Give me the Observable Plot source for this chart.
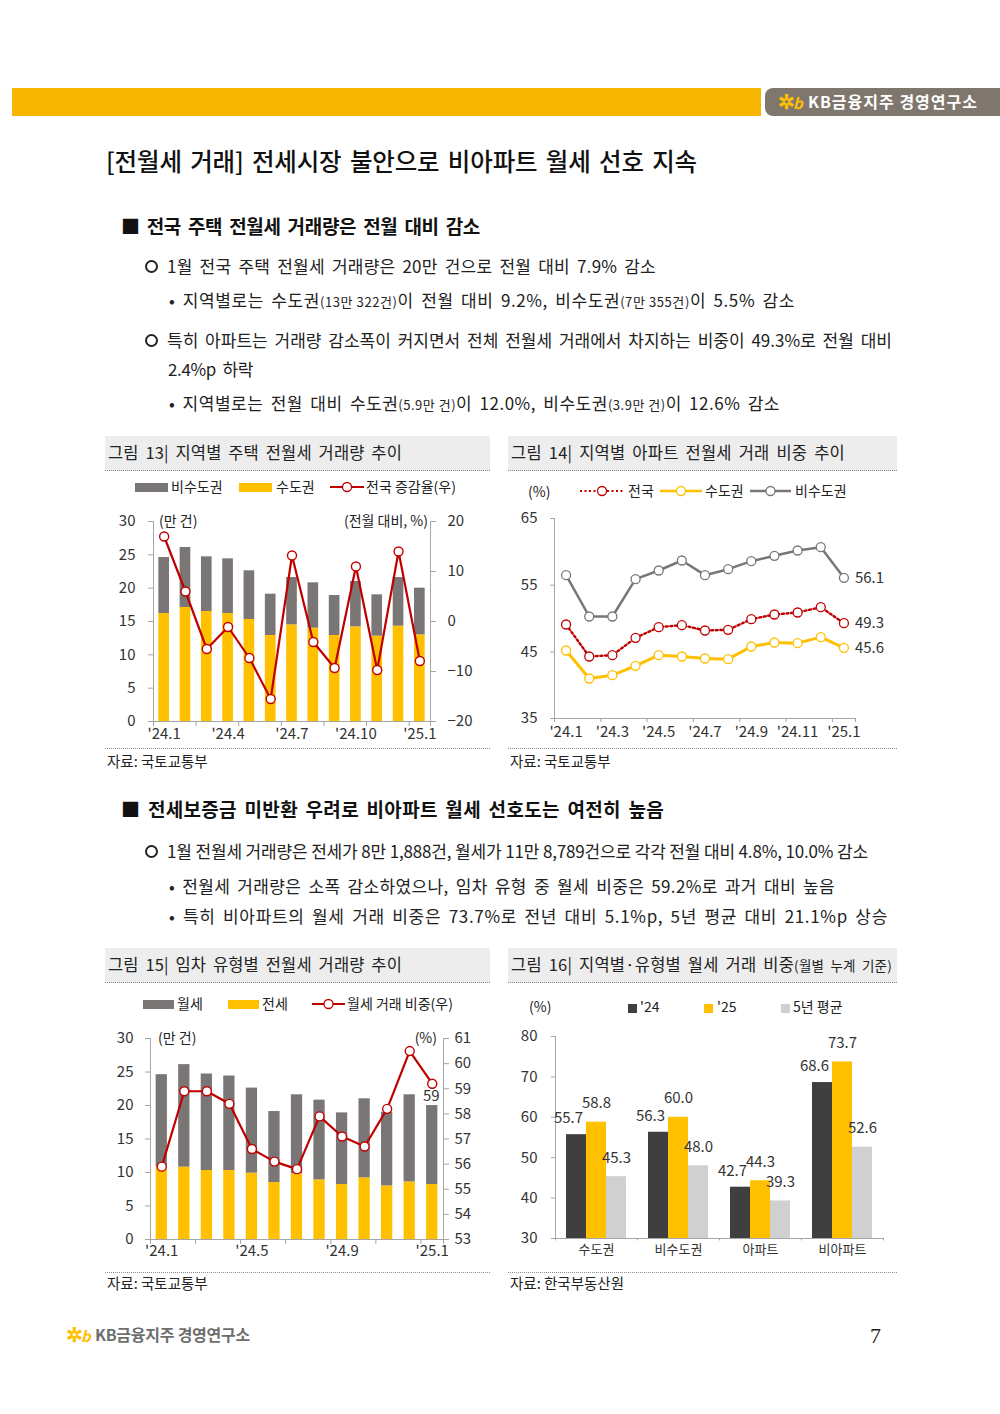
<!DOCTYPE html>
<html><head><meta charset="utf-8">
<script src="https://cdn.jsdelivr.net/npm/d3@7"></script>
<script src="https://cdn.jsdelivr.net/npm/@observablehq/plot@0.6"></script>
<style>
body{margin:0;background:#fff;font-family:"Noto Sans CJK KR","Noto Sans",sans-serif;color:#222}
#page{position:relative;width:1000px;height:1414px;overflow:hidden;background:#fff}
.a{position:absolute;white-space:nowrap}
.tbar{position:absolute;height:34px;background:#EDEDED;border-bottom:1px dotted #8a8a8a}
.dline{position:absolute;height:0;border-top:1px dotted #8a8a8a}
.sm{font-size:13px;word-spacing:0}
.circ{display:inline-block;width:9px;height:9px;border:2.5px solid #222;border-radius:50%;margin-right:9px;vertical-align:middle;position:relative;top:-2px}
</style></head><body><div id="page"></div>
<script>
// ---------------- data ----------------
const months = ["'24.1","'24.2","'24.3","'24.4","'24.5","'24.6","'24.7","'24.8","'24.9","'24.10","'24.11","'24.12","'25.1"];

// 그림 13 (만 건 / %)
const capital13    = [16.2,17.1,16.5,16.2,15.3,12.9,14.5,14.0,12.9,14.2,12.8,14.3,13.0];
const nonCapital13 = [8.4,9.0,8.2,8.2,7.3,6.2,7.1,6.8,6.0,6.8,6.2,7.3,7.0];
const rate13       = [17.0,6.0,-5.5,-1.1,-7.3,-15.5,13.2,-4.1,-9.3,11.0,-9.7,14.0,-7.9];
const labelIdx13   = [0,3,6,9,12];
const leftTicks13  = [0,5,10,15,20,25,30];
const rightTicks13 = [-20,-10,0,10,20];

// 그림 14 (%)
const nation14  = [49.1,44.3,44.5,47.1,48.7,49.0,48.2,48.3,49.9,50.6,50.9,51.7,49.3];
const capital14 = [45.2,41.0,41.5,42.9,44.5,44.3,44.0,43.9,45.8,46.4,46.3,47.2,45.6];
const noncap14  = [56.5,50.3,50.3,55.9,57.2,58.7,56.5,57.4,58.6,59.4,60.2,60.7,56.1];
const labelIdx14 = [0,2,4,6,8,10,12];
const yTicks14 = [35,45,55,65];

// 그림 15 (만 건 / %)
const wolse15  = [13.7,15.3,14.4,14.1,12.7,10.6,11.8,11.9,10.7,11.8,11.0,13.0,11.8];
const jeonse15 = [10.9,10.8,10.3,10.3,9.9,8.5,9.8,8.9,8.2,9.2,8.0,8.6,8.2];
const share15  = [55.9,58.9,58.9,58.4,56.6,56.1,55.8,57.9,57.1,56.7,58.2,60.5,59.2];
const labelIdx15 = [0,4,8,12];
const leftTicks15 = [0,5,10,15,20,25,30];
const rightTicks15 = [53,54,55,56,57,58,59,60,61];

// 그림 16 (%)
const cats16 = ["수도권","비수도권","아파트","비아파트"];
const series16 = ["'24","'25","5년 평균"];
const v24 = [55.7,56.3,42.7,68.6];
const v25 = [58.8,60.0,44.3,73.7];
const avg5 = [45.3,48.0,39.3,52.6];
const yTicks16 = [30,40,50,60,70,80];

// ---------------- style ----------------
const FONT = '"Noto Sans CJK KR","Noto Sans",sans-serif';
const YEL="#FFC000", GRAY="#7B7676", DARK="#3F3F3F", LGRAY="#D0D0D0", RED="#C00000", AX="#A6A6A6", TXT="#333";

const page = document.getElementById("page");
const fits = [];
function put(html, left, cy, size, style="", target) {
  const d = document.createElement("div");
  d.className = "a";
  d.style.cssText = `left:${left}px;top:${cy - size*0.72}px;font-size:${size}px;line-height:${size*1.4}px;${style}`;
  d.innerHTML = html; page.appendChild(d);
  if (target) fits.push([d, target - left]);
  return d;
}
function doFit() {
  for (const [d, w] of fits) {
    d.style.letterSpacing = "0px";
    const cur = d.getBoundingClientRect().width;
    const n = [...d.textContent].length;
    d.style.letterSpacing = ((w - cur) / n) + "px";
  }
}
function box(cls, left, top, width, style="") {
  const d = document.createElement("div");
  d.className = cls; d.style.cssText = `left:${left}px;top:${top}px;width:${width}px;${style}`;
  page.appendChild(d); return d;
}
function place(svg, left, top) {
  const d = document.createElement("div");
  d.className = "a"; d.style.left = left+"px"; d.style.top = top+"px";
  d.appendChild(svg); page.appendChild(d);
}
function swRect(x, cy, w, h, color) { box("a", x, cy - h/2, w, `height:${h}px;background:${color}`); }
function swLine(x, cy, w, color, sw, dash) {
  const s = `<svg width="${w}" height="14" style="display:block"><line x1="0" x2="${w}" y1="7" y2="7" stroke="${color}" stroke-width="${sw}" ${dash?`stroke-dasharray="${dash}"`:""}/><circle cx="${w/2}" cy="7" r="4.5" fill="#fff" stroke="${color}" stroke-width="1.3"/></svg>`;
  const d = box("a", x, cy - 7, w, "height:14px"); d.innerHTML = s;
}

// ---------------- header / text ----------------
box("a", 12, 88, 749, "height:28px;background:#F6B500");
box("a", 765, 88, 240, "height:28px;background:#7F776E;border-radius:8px 0 0 8px");
const logo = '<span style="color:#FFC000;font-weight:700;font-size:20px">✲</span><span style="color:#FFC000;font-weight:700;font-style:italic;font-size:15px;margin-left:-2px">b</span>';
put(logo, 778, 102, 16);
put('KB금융지주 경영연구소', 808, 102, 16, "color:#fff;font-weight:700", 978);

const WS = "word-spacing:3px;";
put('[전월세 거래] 전세시장 불안으로 비아파트 월세 선호 지속', 106, 162, 24.5, WS+"font-weight:500;color:#111", 697);

put('■ 전국 주택 전월세 거래량은 전월 대비 감소', 121, 227, 19, WS+"font-weight:700;color:#111", 480);
put('<span class="circ"></span>1월 전국 주택 전월세 거래량은 20만 건으로 전월 대비 7.9% 감소', 145, 266, 17, WS, 656);
put('• 지역별로는 수도권<span class="sm">(13만 322건)</span>이 전월 대비 9.2%, 비수도권<span class="sm">(7만 355건)</span>이 5.5% 감소', 169, 300, 17, WS, 795);
put('<span class="circ"></span>특히 아파트는 거래량 감소폭이 커지면서 전체 전월세 거래에서 차지하는 비중이 49.3%로 전월 대비', 145, 340, 17, WS, 892);
put('2.4%p 하락', 168, 369, 17, WS, 253);
put('• 지역별로는 전월 대비 수도권<span class="sm">(5.9만 건)</span>이 12.0%, 비수도권<span class="sm">(3.9만 건)</span>이 12.6% 감소', 169, 403, 17, WS, 780);

put('■ 전세보증금 미반환 우려로 비아파트 월세 선호도는 여전히 높음', 121, 810, 19, WS+"font-weight:700;color:#111", 664);
put('<span class="circ"></span>1월 전월세 거래량은 전세가 8만 1,888건, 월세가 11만 8,789건으로 각각 전월 대비 4.8%, 10.0% 감소', 145, 851, 17, "", 868);
put('• 전월세 거래량은 소폭 감소하였으나, 임차 유형 중 월세 비중은 59.2%로 과거 대비 높음', 169, 886, 17, WS, 835);
put('• 특히 비아파트의 월세 거래 비중은 73.7%로 전년 대비 5.1%p, 5년 평균 대비 21.1%p 상승', 169, 916, 17, WS, 888);

// chart title bars & sources
box("tbar", 105, 436, 385); box("tbar", 508, 436, 389);
box("tbar", 105, 948, 385); box("tbar", 508, 948, 389);
put('그림 13| 지역별 주택 전월세 거래량 추이', 108, 453, 16.5, WS+"color:#222", 402);
put('그림 14| 지역별 아파트 전월세 거래 비중 추이', 511, 453, 16.5, WS+"color:#222", 845);
put('그림 15| 임차 유형별 전월세 거래량 추이', 108, 965, 16.5, WS+"color:#222", 402);
put('그림 16| 지역별·유형별 월세 거래 비중<span style="font-size:13.5px">(월별 누계 기준)</span>', 511, 965, 16.5, WS+"color:#222", 892);
box("dline", 105, 748, 385); box("dline", 508, 748, 389);
box("dline", 105, 1272, 385); box("dline", 508, 1272, 389);
put('자료: 국토교통부', 107, 761, 14.5);
put('자료: 국토교통부', 510, 761, 14.5);
put('자료: 국토교통부', 107, 1283, 14.5);
put('자료: 한국부동산원', 510, 1283, 14.5);

// footer
put(logo, 66, 1335, 16);
put('KB금융지주 경영연구소', 95, 1335, 16, "color:#6e6e6e;font-weight:700", 250);
put('7', 870, 1337, 22, 'font-family:"Liberation Serif",serif;color:#222');

// ---------------- legends & unit labels ----------------
swRect(135, 487, 33, 9, GRAY); put('비수도권', 171, 487, 14);
swRect(239, 487, 33, 9, YEL); put('수도권', 276, 487, 14);
swLine(330, 487, 34, RED, 2.2); put('전국 증감율(우)', 366, 487, 14);
put('(만 건)', 159, 521, 14);
put('(전월 대비, %)', 428, 521, 14, "transform:translateX(-100%)");

put('(%)', 528, 492, 14);
swLine(580, 491, 44, RED, 2.2, "2,2.5"); put('전국', 628, 491, 14);
swLine(660, 491, 42, YEL, 2.5); put('수도권', 705, 491, 14);
swLine(750, 491, 41, GRAY, 2.5); put('비수도권', 795, 491, 14);

swRect(143, 1004, 31, 9, GRAY); put('월세', 177, 1004, 14);
swRect(228, 1004, 31, 9, YEL); put('전세', 262, 1004, 14);
swLine(312, 1004, 33, RED, 2.2); put('월세 거래 비중(우)', 347, 1004, 14);
put('(만 건)', 158, 1038, 14);
put('(%)', 437, 1038, 14, "transform:translateX(-100%)");

put('(%)', 529, 1007, 14);
swRect(628, 1008, 9, 9, DARK); put("'24", 640, 1007, 14);
swRect(704, 1008, 9, 9, YEL); put("'25", 717, 1007, 14);
swRect(781, 1008, 9, 9, LGRAY); put('5년 평균', 793, 1007, 14);

doFit();
if (document.fonts && document.fonts.ready) document.fonts.ready.then(doFit);

// ---------------- charts ----------------
const idx = months.map((_, i) => i);
const xdom = [-0.5, months.length - 0.5];
const tickB = idx.filter(i => i % 2 === 0).map(i => i - 0.5).concat([months.length - 0.5]);
const hb = 0.25; // half bar width (in month steps)
const minus = v => v < 0 ? "\u2212" + (-v) : String(v);
const baseStyle = {fontFamily: FONT, fontSize: "15px", color: TXT, background: "transparent", overflow: "visible"};

// 그림 13
{
  const rows = idx.map(i => ({i, cap: capital13[i], non: nonCapital13[i], rate: rate13[i]}));
  const rd = [rightTicks13[0], rightTicks13[rightTicks13.length-1]];
  const ld = [leftTicks13[0], leftTicks13[leftTicks13.length-1]];
  const toL = v => ld[0] + (v - rd[0]) * (ld[1]-ld[0]) / (rd[1]-rd[0]);
  const fromL = y => Math.round(rd[0] + (y - ld[0]) * (rd[1]-rd[0]) / (ld[1]-ld[0]));
  const p = Plot.plot({
    width: 385, height: 250, marginLeft: 48, marginRight: 60, marginTop: 21, marginBottom: 29,
    style: baseStyle,
    x: {domain: xdom, axis: null}, y: {domain: ld, axis: null},
    marks: [
      Plot.rect(rows, {x1: d => d.i - hb, x2: d => d.i + hb, y1: ld[0], y2: "cap", fill: YEL}),
      Plot.rect(rows, {x1: d => d.i - hb, x2: d => d.i + hb, y1: "cap", y2: d => d.cap + d.non, fill: GRAY}),
      Plot.ruleY([ld[0]], {stroke: AX}),
      Plot.ruleX([xdom[0], xdom[1]], {y1: ld[0], y2: ld[1], stroke: AX}),
      Plot.ruleX(tickB, {y1: ld[0], y2: ld[0] - 0.75, stroke: AX}),
      Plot.axisY(leftTicks13, {anchor: "left", tickSize: 5, tickPadding: 13, stroke: AX, fill: TXT, label: null}),
      Plot.axisY(rightTicks13.map(toL), {anchor: "right", tickSize: 5, tickPadding: 12, stroke: AX, fill: TXT, label: null, tickFormat: y => minus(fromL(y))}),
      Plot.axisX(labelIdx13, {anchor: "bottom", tickSize: 0, tickPadding: 7, fill: TXT, label: null, tickFormat: i => months[i]}),
      Plot.line(rows, {x: "i", y: d => toL(d.rate), stroke: RED, strokeWidth: 2.2}),
      Plot.dot(rows, {x: "i", y: d => toL(d.rate), r: 4.5, fill: "white", stroke: RED, strokeWidth: 1.4})
    ]
  });
  place(p, 105, 500);
}

// 그림 14
{
  const series = [
    {name: "비수도권", vals: noncap14, color: GRAY, sw: 2.5},
    {name: "수도권", vals: capital14, color: YEL, sw: 3},
    {name: "전국", vals: nation14, color: RED, sw: 2.4, dash: "2,2.6"}
  ];
  const yd = [yTicks14[0], yTicks14[yTicks14.length-1]];
  const marks = [
    Plot.ruleY([yd[0]], {stroke: AX}),
    Plot.ruleX([xdom[0]], {y1: yd[0], y2: yd[1], stroke: AX}),
    Plot.ruleX(tickB, {y1: yd[0], y2: yd[0] - 0.6, stroke: AX}),
    Plot.axisY(yTicks14, {anchor: "left", tickSize: 4, tickPadding: 13, stroke: AX, fill: TXT, label: null}),
    Plot.axisX(labelIdx14, {anchor: "bottom", tickSize: 0, tickPadding: 8, fill: TXT, label: null, tickFormat: i => months[i]})
  ];
  for (const s of series) {
    const rows = idx.map(i => ({i, v: s.vals[i]}));
    marks.push(Plot.line(rows, {x: "i", y: "v", stroke: s.color, strokeWidth: s.sw, strokeDasharray: s.dash}));
    marks.push(Plot.dot(rows, {x: "i", y: "v", r: 4.5, fill: "white", stroke: s.color, strokeWidth: 1.3}));
    marks.push(Plot.text([rows[rows.length-1]], {x: "i", y: "v", text: d => d.v.toFixed(1), dx: 11, textAnchor: "start", fill: TXT, fontSize: 15}));
  }
  const p = Plot.plot({
    width: 390, height: 250, marginLeft: 46, marginRight: 43, marginTop: 18, marginBottom: 32,
    style: baseStyle, x: {domain: xdom, axis: null}, y: {domain: yd, axis: null}, marks
  });
  place(p, 508, 500);
}

// 그림 15
{
  const rows = idx.map(i => ({i, j: jeonse15[i], w: wolse15[i], s: share15[i]}));
  const rd = [rightTicks15[0], rightTicks15[rightTicks15.length-1]];
  const ld = [leftTicks15[0], leftTicks15[leftTicks15.length-1]];
  const toL = v => ld[0] + (v - rd[0]) * (ld[1]-ld[0]) / (rd[1]-rd[0]);
  const fromL = y => Math.round(rd[0] + (y - ld[0]) * (rd[1]-rd[0]) / (ld[1]-ld[0]));
  const p = Plot.plot({
    width: 385, height: 255, marginLeft: 45, marginRight: 47, marginTop: 18, marginBottom: 36,
    style: baseStyle,
    x: {domain: xdom, axis: null}, y: {domain: ld, axis: null},
    marks: [
      Plot.rect(rows, {x1: d => d.i - hb, x2: d => d.i + hb, y1: ld[0], y2: "j", fill: YEL}),
      Plot.rect(rows, {x1: d => d.i - hb, x2: d => d.i + hb, y1: "j", y2: d => d.j + d.w, fill: GRAY}),
      Plot.ruleY([ld[0]], {stroke: AX}),
      Plot.ruleX([xdom[0], xdom[1]], {y1: ld[0], y2: ld[1], stroke: AX}),
      Plot.ruleX(tickB, {y1: ld[0], y2: ld[0] - 0.75, stroke: AX}),
      Plot.axisY(leftTicks15, {anchor: "left", tickSize: 5, tickPadding: 12, stroke: AX, fill: TXT, label: null}),
      Plot.axisY(rightTicks15.map(toL), {anchor: "right", tickSize: 5, tickPadding: 6, stroke: AX, fill: TXT, label: null, tickFormat: y => fromL(y)}),
      Plot.axisX(labelIdx15, {anchor: "bottom", tickSize: 0, tickPadding: 6, fill: TXT, label: null, tickFormat: i => months[i]}),
      Plot.line(rows, {x: "i", y: d => toL(d.s), stroke: RED, strokeWidth: 2.2}),
      Plot.dot(rows, {x: "i", y: d => toL(d.s), r: 4.5, fill: "white", stroke: RED, strokeWidth: 1.4}),
      Plot.text([rows[rows.length-1]], {x: "i", y: d => toL(d.s), text: d => Math.round(d.s), dy: 12, dx: -1, fill: TXT, fontSize: 15})
    ]
  });
  place(p, 105, 1020);
}

// 그림 16
{
  const vals = [v24, v25, avg5];
  const colors = [DARK, YEL, LGRAY];
  const off = 0.244;      // bar offset within category group
  const half = off / 2;
  const rows = [];
  cats16.forEach((c, ci) => series16.forEach((s, si) => rows.push({ci, si, v: vals[si][ci]})));
  const yd = [yTicks16[0], yTicks16[yTicks16.length-1]];
  const cd = [-0.5, cats16.length - 0.5];
  const pos = d => d.ci + (d.si - 1) * off;
  const p = Plot.plot({
    width: 390, height: 255, marginLeft: 47, marginRight: 15, marginTop: 16, marginBottom: 37,
    style: baseStyle,
    x: {domain: cd, axis: null}, y: {domain: yd, axis: null},
    color: {domain: series16, range: colors},
    marks: [
      Plot.rect(rows, {x1: d => pos(d) - half, x2: d => pos(d) + half, y1: yd[0], y2: "v", fill: d => series16[d.si]}),
      Plot.ruleY([yd[0]], {stroke: AX}),
      Plot.ruleX([cd[0]], {y1: yd[0], y2: yd[1], stroke: AX}),
      Plot.ruleX(d3.range(cats16.length + 1).map(k => k - 0.5), {y1: yd[0], y2: yd[0] - 0.6, stroke: AX}),
      Plot.axisY(yTicks16, {anchor: "left", tickSize: 4, tickPadding: 14, stroke: AX, fill: TXT, label: null}),
      Plot.axisX(d3.range(cats16.length), {anchor: "bottom", tickSize: 0, tickPadding: 6, fill: TXT, label: null, fontSize: 13, tickFormat: i => cats16[i]}),
      Plot.text(rows.filter(d => d.si === 0), {x: pos, y: "v", text: d => d.v.toFixed(1), dx: -8, dy: -16, fill: TXT, fontSize: 15}),
      Plot.text(rows.filter(d => d.si !== 0), {x: pos, y: "v", text: d => d.v.toFixed(1), dy: -19, fill: TXT, fontSize: 15})
    ]
  });
  place(p, 508, 1020);
}
</script></body></html>
